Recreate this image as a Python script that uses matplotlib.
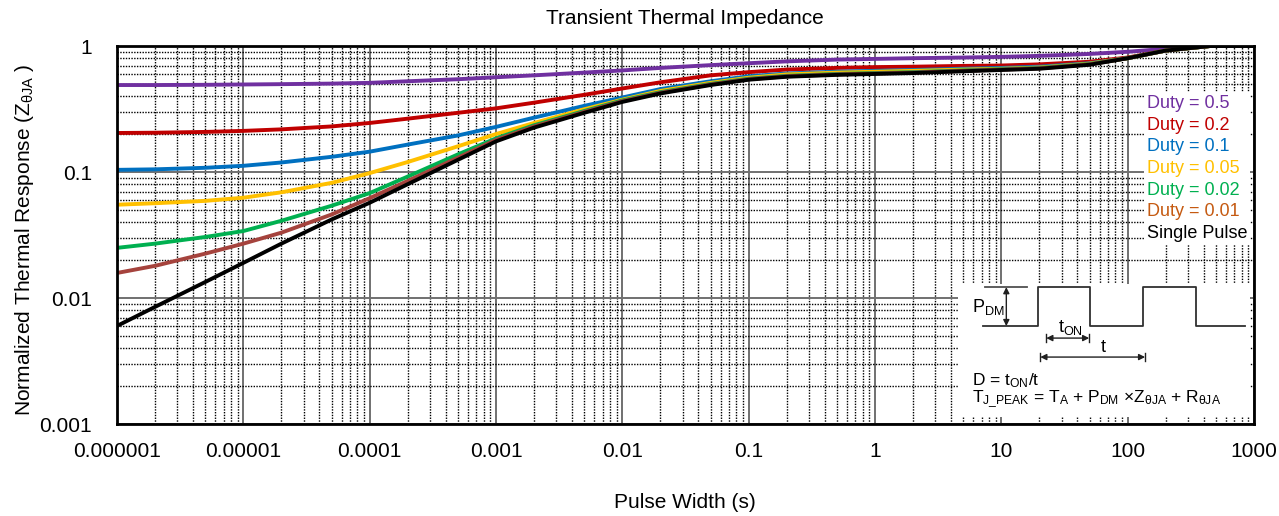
import matplotlib
matplotlib.use("Agg")
import matplotlib.pyplot as plt
from matplotlib.ticker import LogLocator, NullFormatter

plt.rcParams['font.family'] = ['Liberation Sans', 'DejaVu Sans']
plt.rcParams['mathtext.fontset'] = 'custom'
plt.rcParams['mathtext.rm'] = 'Liberation Sans'
plt.rcParams['mathtext.it'] = 'Liberation Sans'
plt.rcParams['mathtext.default'] = 'regular'

# pulse width (s)
t = [1e-6, 2e-6, 5e-6, 1e-5, 2e-5, 5e-5, 1e-4, 2e-4, 5e-4, 1e-3, 2e-3, 5e-3,
     1e-2, 2e-2, 5e-2, 0.1, 0.2, 0.5, 1, 2, 5, 10, 20, 50, 100, 200, 450, 1000]

duty_05 = [0.49, 0.49, 0.492, 0.495, 0.498, 0.503, 0.51, 0.525, 0.545, 0.565, 0.585, 0.615,
           0.64, 0.67, 0.705, 0.73, 0.755, 0.78, 0.79, 0.80, 0.81, 0.82, 0.835, 0.865,
           0.90, 0.95, 1.0, 1.0]
duty_02 = [0.204, 0.205, 0.208, 0.212, 0.218, 0.23, 0.245, 0.265, 0.295, 0.32, 0.355, 0.41,
           0.46, 0.515, 0.585, 0.62, 0.65, 0.67, 0.68, 0.685, 0.695, 0.70, 0.715, 0.75,
           0.81, 0.92, 1.0, 1.0]
duty_01 = [0.104, 0.105, 0.108, 0.112, 0.119, 0.132, 0.145, 0.165, 0.195, 0.228, 0.27, 0.335,
           0.39, 0.455, 0.525, 0.575, 0.605, 0.625, 0.635, 0.645, 0.66, 0.67, 0.685, 0.73,
           0.80, 0.92, 1.0, 1.0]
duty_005 = [0.055, 0.0565, 0.059, 0.0625, 0.069, 0.082, 0.098, 0.12, 0.16, 0.20, 0.245, 0.315,
            0.375, 0.44, 0.51, 0.56, 0.595, 0.615, 0.625, 0.635, 0.65, 0.66, 0.675, 0.725,
            0.80, 0.92, 1.0, 1.0]
duty_002 = [0.025, 0.027, 0.0305, 0.034, 0.041, 0.054, 0.068, 0.092, 0.138, 0.185, 0.235, 0.305,
            0.37, 0.43, 0.50, 0.55, 0.58, 0.60, 0.61, 0.62, 0.64, 0.655, 0.67, 0.72,
            0.80, 0.92, 1.0, 1.0]
duty_001 = [0.0158, 0.018, 0.0225, 0.027, 0.033, 0.046, 0.062, 0.085, 0.13, 0.18, 0.23, 0.30,
            0.365, 0.425, 0.495, 0.545, 0.575, 0.595, 0.605, 0.615, 0.635, 0.65, 0.665, 0.715,
            0.80, 0.92, 1.0, 1.0]
single = [0.006, 0.0085, 0.0134, 0.019, 0.027, 0.042, 0.057, 0.08, 0.125, 0.175, 0.225, 0.295,
          0.36, 0.42, 0.49, 0.54, 0.57, 0.59, 0.60, 0.61, 0.63, 0.645, 0.66, 0.71,
          0.80, 0.92, 1.0, 1.0]

series = [duty_05, duty_02, duty_01, duty_005, duty_002, duty_001, single]
labels = ['Duty = 0.5', 'Duty = 0.2', 'Duty = 0.1', 'Duty = 0.05',
          'Duty = 0.02', 'Duty = 0.01', 'Single Pulse']
line_colors = ['#7030A0', '#C00000', '#0070C0', '#FFC000', '#00B050', '#A5433D', '#000000']
text_colors = ['#7030A0', '#C00000', '#0070C0', '#FFC000', '#00B050', '#C55A11', '#000000']

x_ticks = [1e-6, 1e-5, 1e-4, 1e-3, 1e-2, 1e-1, 1, 10, 100, 1000]
x_labels = ['0.000001', '0.00001', '0.0001', '0.001', '0.01', '0.1', '1', '10', '100', '1000']
y_ticks = [0.001, 0.01, 0.1, 1]
y_labels = ['0.001', '0.01', '0.1', '1']

fig = plt.figure(figsize=(12.79, 5.16), dpi=100)
ax = fig.add_axes([117 / 1279, 1 - 424 / 516, 1137 / 1279, 378 / 516])

lines = []
for ys, c in zip(series, line_colors):
    ln, = ax.plot(t, ys, color=c, lw=2.8, solid_joinstyle='round',
                  solid_capstyle='round', zorder=3)
    lines.append(ln)

ax.set_xscale('log')
ax.set_yscale('log')
ax.set_xlim(1e-6, 1000)
ax.set_ylim(0.001, 1)
ax.set_xticks(x_ticks, x_labels)
ax.set_yticks(y_ticks, y_labels)
ax.xaxis.set_minor_locator(LogLocator(base=10, subs=range(2, 10), numticks=100))
ax.yaxis.set_minor_locator(LogLocator(base=10, subs=range(2, 10), numticks=100))
ax.xaxis.set_minor_formatter(NullFormatter())
ax.yaxis.set_minor_formatter(NullFormatter())
ax.tick_params(which='both', length=0, labelsize=15)
ax.tick_params(axis='x', pad=13)
ax.tick_params(axis='y', pad=18)

ax.grid(which='major', color='#707070', lw=1.4, ls='-')
ax.grid(which='minor', color='#000000', lw=1.0, ls=(0, (1, 1)))
for s in ax.spines.values():
    s.set_linewidth(2)
    s.set_zorder(4)

leg = ax.legend(lines, labels, loc='upper right', bbox_to_anchor=(0.9965, 0.878),
                handlelength=0, handletextpad=0, labelcolor=text_colors,
                fontsize=13, frameon=True, fancybox=False, framealpha=1,
                edgecolor='none', facecolor='white', borderpad=0.15,
                labelspacing=0.26, borderaxespad=0)
for h in leg.legend_handles:
    h.set_visible(False)

fig.text(685 / 1279, 1 - 19 / 516, 'Transient Thermal Impedance', ha='center', va='center', fontsize=15)
fig.text(685 / 1279, 1 - 503 / 516, 'Pulse Width (s)', ha='center', va='center', fontsize=15)
fig.text(25 / 1279, 1 - 240 / 516, 'Normalized Thermal Response (Z$_{\\theta JA}$ )',
         ha='center', va='center', rotation=90, fontsize=15)

# duty-cycle sketch, drawn in pixel units of its own box
ins = ax.inset_axes([0.740, 0.0185, 0.2565, 0.3515])
ins.set_xlim(958, 1250)
ins.set_ylim(417, 284)
ins.set_facecolor('white')
ins.set_xticks([])
ins.set_yticks([])
for s in ins.spines.values():
    s.set_visible(False)

wave_x = [983, 1038, 1038, 1090, 1090, 1143, 1143, 1196, 1196, 1245]
wave_y = [326, 326, 287, 287, 326, 326, 287, 287, 326, 326]
ins.plot(wave_x, wave_y, color='#303030', lw=1.3)
ins.plot([985, 1027], [287, 287], color='#505050', lw=1.3)

arrow = dict(arrowstyle='<|-|>', color='#202020', lw=1.0, mutation_scale=9,
             shrinkA=0, shrinkB=0)
ins.annotate('', xy=(1006, 287), xytext=(1006, 326), arrowprops=arrow)
ins.annotate('', xy=(1046, 338), xytext=(1089, 338), arrowprops=arrow)
ins.annotate('', xy=(1040, 357), xytext=(1145, 357), arrowprops=arrow)
for xx, yy in [(1046, 338), (1089, 338), (1040, 357), (1145, 357)]:
    ins.plot([xx, xx], [yy - 4, yy + 4], color='#202020', lw=1.0)

ins.text(972, 307, 'P$_{DM}$', ha='left', va='center', fontsize=13)
ins.text(1058, 327, 't$_{ON}$', ha='left', va='center', fontsize=13)
ins.text(1103, 347, 't', ha='center', va='center', fontsize=13)
ins.text(972, 381, 'D = t$_{ON}$/t', ha='left', va='center', fontsize=12.5)
ins.text(972, 399, 'T$_{J\\_PEAK}$ = T$_{A}$ + P$_{DM}$ \u00d7Z$_{\\theta JA}$ + R$_{\\theta JA}$',
         ha='left', va='center', fontsize=12.5)

fig.savefig('out.png', dpi=100)
